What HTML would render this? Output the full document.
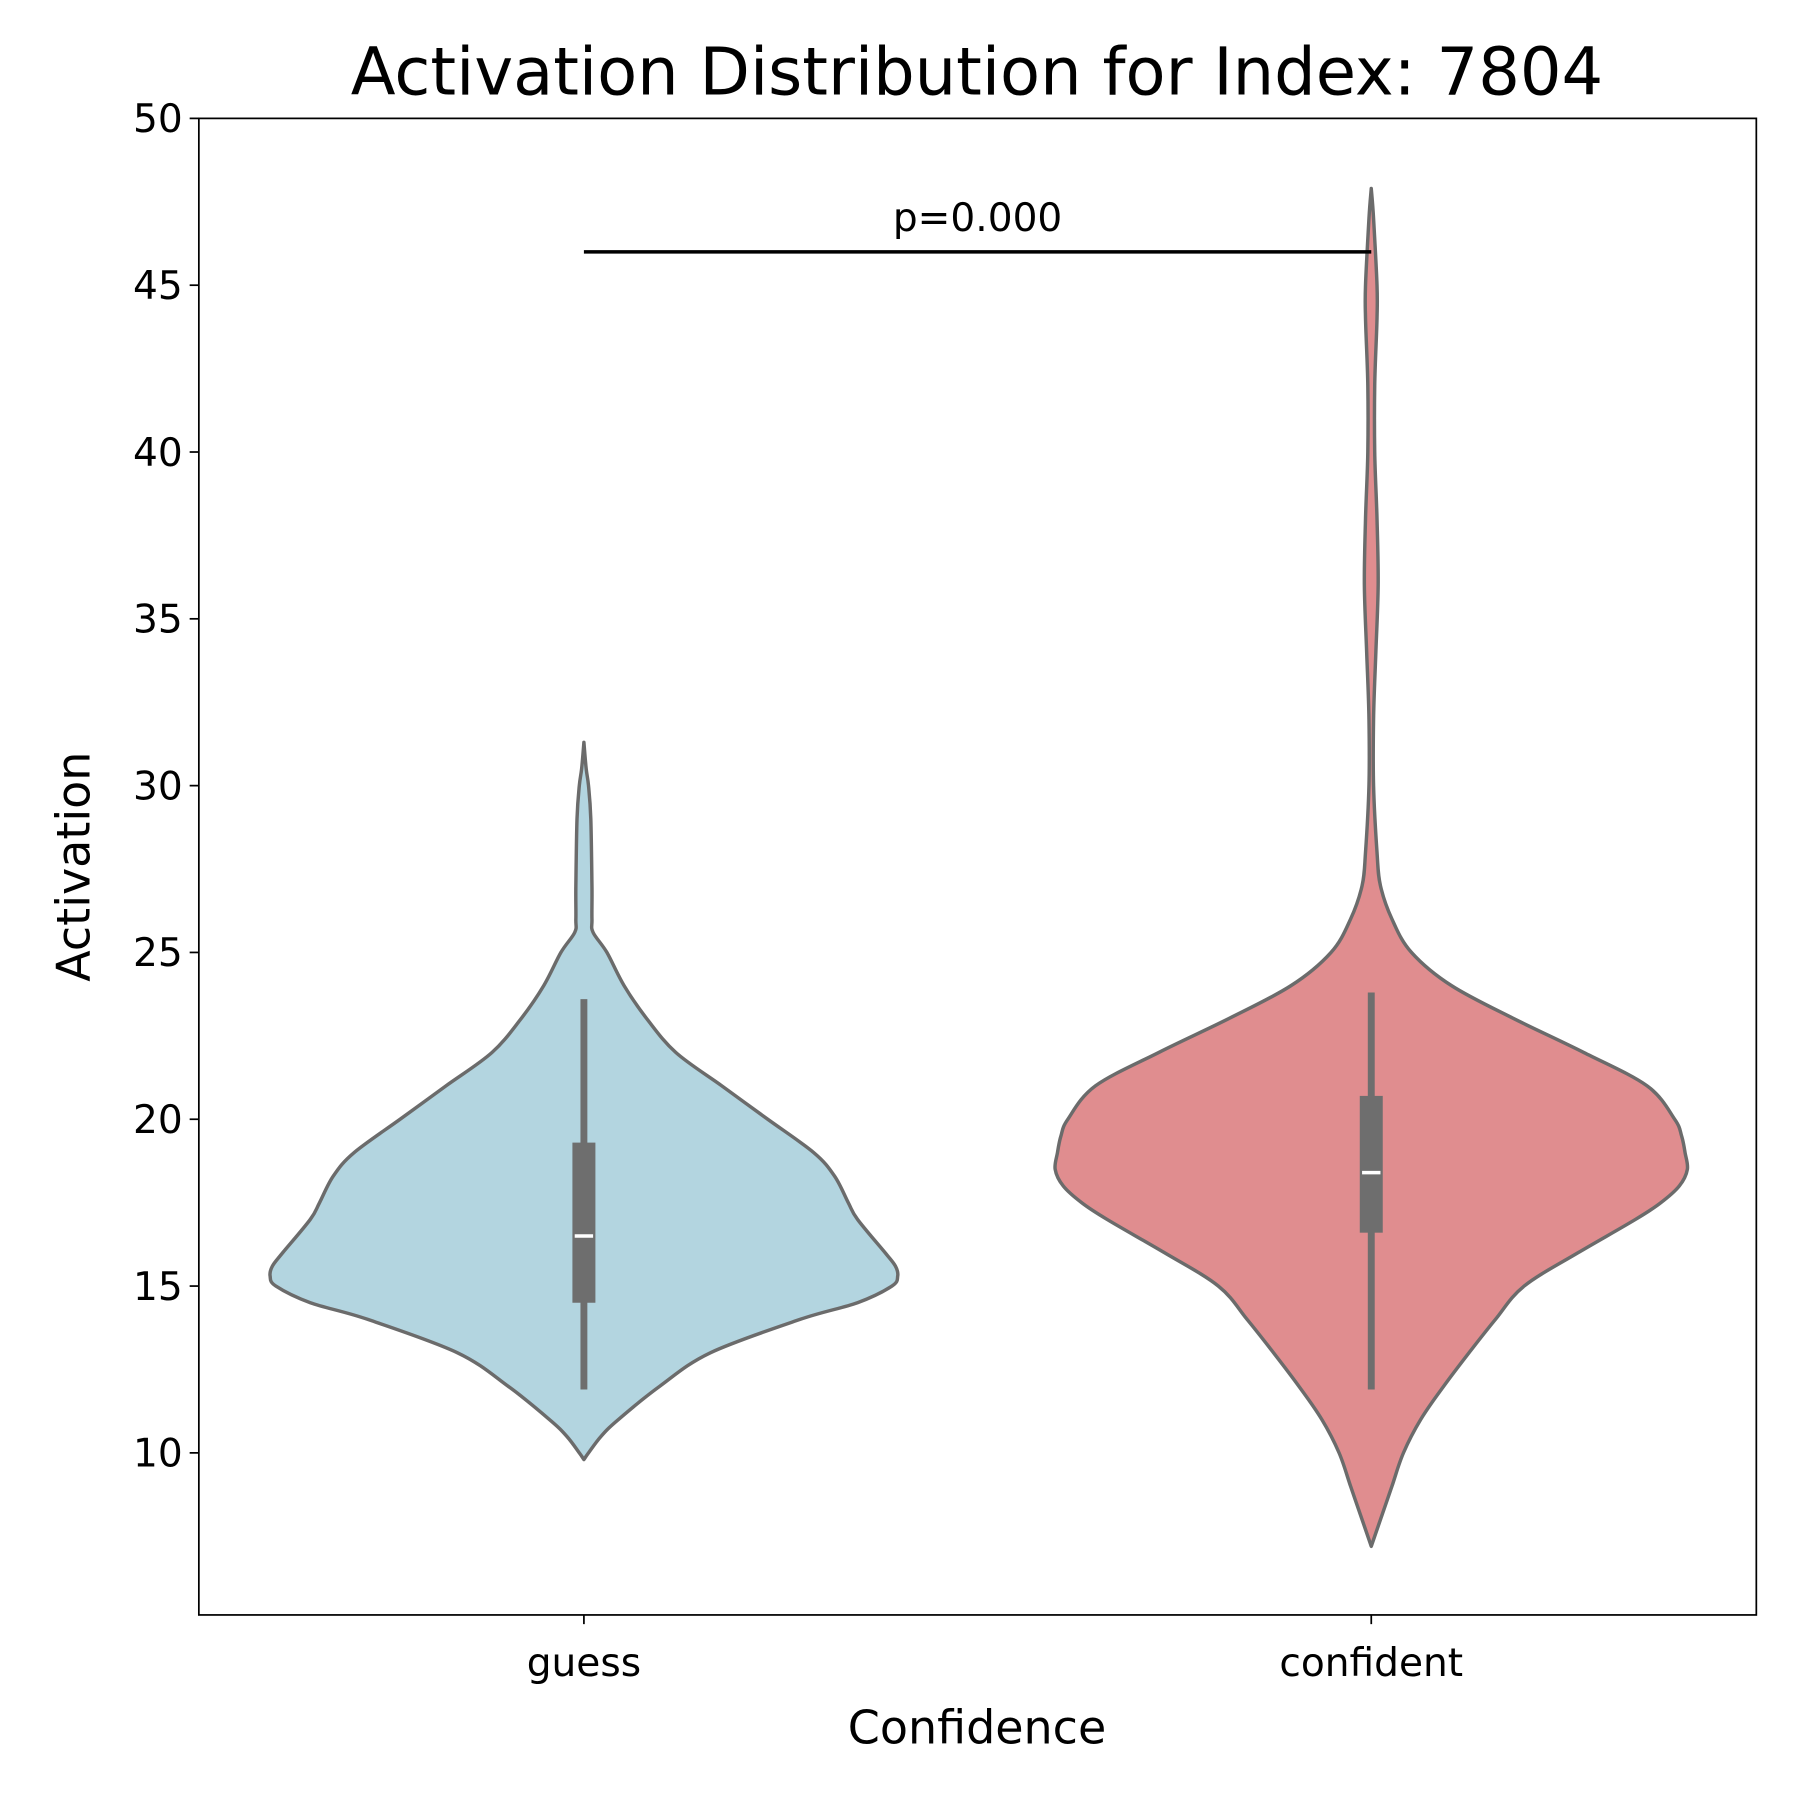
<!DOCTYPE html>
<html><head><meta charset="utf-8"><style>
html,body{margin:0;padding:0;background:#fff}
svg{display:block}
text{font-family:"DejaVu Sans","Liberation Sans",sans-serif;fill:#000}
</style></head><body>
<svg id="chart" width="1800" height="1800" viewBox="0 0 1566 1566" xmlns="http://www.w3.org/2000/svg">
<rect width="1566" height="1566" fill="#fff"/>
<text x="850" y="82" font-size="57" text-anchor="middle">Activation Distribution for Index: 7804</text>
<g id="plot"></g>
<text x="850" y="1517" font-size="40" text-anchor="middle">Confidence</text>
<text transform="translate(78,754) rotate(-90)" font-size="40" text-anchor="middle">Activation</text>
</svg>
<script>
const categories = ["guess", "confident"];
const colors = ["#b3d5e0", "#e08d8f"];
const yTicks = [10, 15, 20, 25, 30, 35, 40, 45, 50];
const guessY = [31.3,30.5,30,29,27,26,25.6,25,24,23,22,21,20,19,18.3,17.5,17,16,15.6,15.3,15,14.5,14,13,12,11,10.5,10,9.8];
const guessW = [0,2,4,6,7,7,8,20,35,55,80,120,160,200,218,230,238,262,271,273,268,238,188,110,66,30,15,4,0];
const confY = [47.9,47,45,44,42,40,38,36,34,32,30,28,27,26,25,24,23,22,21,20,19.5,19,18.5,18,17.5,17,16,15,14,13,12,11,10,9,8,7.2];
const confW = [0,2,5,5,3,3,5,6,4,2,2,5,8,18,35,70,125,185,240,264,270,273,275,268,252,230,180,133,108,85,63,43,28,18,8,0];
const q1 = [14.5, 16.6];
const q3 = [19.3, 20.7];
const medians = [16.5, 18.4];
const whiskLo = [11.9, 11.9];
const whiskHi = [23.6, 23.8];
const sigY = 46;
const sigLabel = "p=0.000";

const L=173,R=1528,T=103,B=1405;
const y = v => 1264 - (v-10)*(1264-103)/40;
const x = i => 508 + i*(1193-508);
const NS="http://www.w3.org/2000/svg";
const g=document.getElementById('plot');
function mk(tag,attrs){const e=document.createElementNS(NS,tag);for(const k in attrs)e.setAttribute(k,attrs[k]);g.appendChild(e);return e;}
function smooth(p){
  let d='M'+p[0][0].toFixed(1)+','+p[0][1].toFixed(1);
  for(let i=0;i<p.length-1;i++){
    const p0=p[Math.max(0,i-1)],p1=p[i],p2=p[i+1],p3=p[Math.min(p.length-1,i+2)];
    const c1=[p1[0]+(p2[0]-p0[0])/6,p1[1]+(p2[1]-p0[1])/6];
    const c2=[p2[0]-(p3[0]-p1[0])/6,p2[1]-(p3[1]-p1[1])/6];
    d+=' C'+c1[0].toFixed(1)+','+c1[1].toFixed(1)+' '+c2[0].toFixed(1)+','+c2[1].toFixed(1)+' '+p2[0].toFixed(1)+','+p2[1].toFixed(1);
  }
  return d;
}
const sets=[[guessY,guessW],[confY,confW]];
sets.forEach((s,i)=>{
  const [ys,ws]=s;const cx=x(i);
  const right=ys.map((v,j)=>[cx+ws[j],y(v)]);
  const left=ys.map((v,j)=>[cx-ws[j],y(v)]).reverse();
  const d=smooth(right)+' L'+smooth(left).slice(1)+'Z';
  const p=mk('path',{d:d,fill:colors[i],stroke:'#6b6b6b','stroke-width':3,'stroke-linejoin':'round'});
  
  
  const w=mk('line',{x1:cx,x2:cx,y1:y(whiskLo[i]),y2:y(whiskHi[i]),stroke:'#6e6e6e','stroke-width':6});
  
  
  const b=mk('rect',{x:cx-10,width:20,y:y(q3[i]),height:y(q1[i])-y(q3[i]),fill:'#6e6e6e'});
  
  
  const m=mk('line',{x1:cx-8,x2:cx+8,y1:y(medians[i]),y2:y(medians[i]),stroke:'#fff','stroke-width':3});
  
  
  const t=mk('line',{x1:cx,x2:cx,y1:B,y2:B+8,stroke:'#000','stroke-width':1.5});
  
  
  const tl=mk('text',{x:cx,y:B+53,'font-size':34,'text-anchor':'middle'});
  tl.textContent=categories[i];
  
  
});
yTicks.forEach(v=>{
  const t=mk('line',{x1:L-8,x2:L,y1:y(v),y2:y(v),stroke:'#000','stroke-width':1.5});
  
  
  const tl=mk('text',{x:L-14,y:y(v)+12,'font-size':34,'text-anchor':'end'});
  tl.textContent=v;
  
  
});
const sl=mk('line',{x1:x(0),x2:x(1),y1:y(sigY),y2:y(sigY),stroke:'#000','stroke-width':3});


const st=mk('text',{x:(x(0)+x(1))/2,y:y(sigY)-18,'font-size':34,'text-anchor':'middle'});
st.textContent=sigLabel;


const fr=mk('rect',{x:L,y:T,width:R-L,height:B-T,fill:'none',stroke:'#000','stroke-width':1.5});


</script>
</body></html>
